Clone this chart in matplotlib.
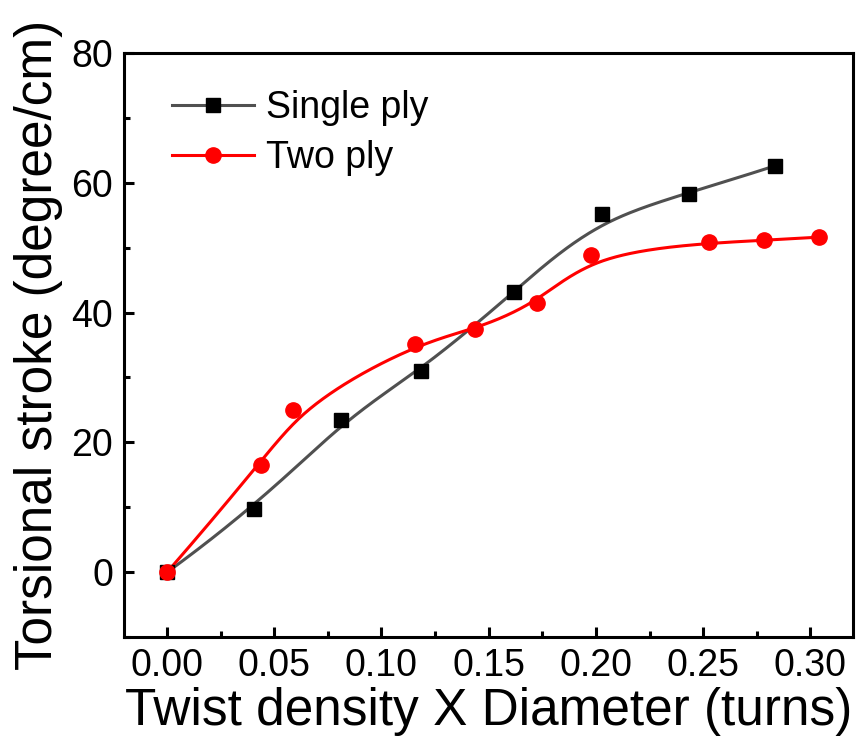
import numpy as np
from matplotlib import pyplot as plt
from matplotlib.ticker import MultipleLocator

# data
single_x = [0.0, 0.0404, 0.081, 0.1183, 0.162, 0.2027, 0.2433, 0.2837]
single_y = [0.0, 9.7, 23.4, 31.0, 43.2, 55.1, 58.3, 62.6]
two_x = [0.0, 0.0438, 0.0589, 0.1158, 0.1437, 0.1724, 0.1979, 0.2525, 0.2785, 0.3038]
two_y = [0.0, 16.6, 25.0, 35.2, 37.4, 41.4, 48.8, 50.8, 51.1, 51.6]


def bspline(xs, ys, n=400, k=3):
    # clamped cubic B-spline with the data points as control points
    P = np.column_stack([xs, ys])
    m = len(P)
    u = np.concatenate([np.zeros(k), np.linspace(0, 1, m - k + 1), np.ones(k)])
    t = np.linspace(0, 1, n)
    N = np.zeros((len(u) - 1, n))
    for i in range(len(u) - 1):
        N[i] = (u[i] <= t) & (t < u[i + 1])
    N[m - 1, -1] = 1.0
    for p in range(1, k + 1):
        Nn = np.zeros((len(u) - 1 - p, n))
        for i in range(len(u) - 1 - p):
            a = 0.0
            d1 = u[i + p] - u[i]
            if d1 > 0:
                a = (t - u[i]) / d1 * N[i]
            b = 0.0
            d2 = u[i + p + 1] - u[i + 1]
            if d2 > 0:
                b = (u[i + p + 1] - t) / d2 * N[i + 1]
            Nn[i] = a + b
        N = Nn
    C = N.T @ P
    return C[:, 0], C[:, 1]


plt.rcParams['font.family'] = ['Liberation Sans', 'DejaVu Sans']

fig = plt.figure(figsize=(8.59, 7.47), dpi=100)
ax = fig.add_axes([0.1444, 0.1468, 0.849, 0.7827])

gray = '#505050'
sx, sy = bspline(single_x, single_y)
tx, ty = bspline(two_x, two_y)
ax.plot(sx, sy, color=gray, lw=2.2, zorder=2)
ax.plot(tx, ty, color='red', lw=2.2, zorder=2)
ax.plot(single_x, single_y, ls='none', marker='s', ms=9.5, color='black', zorder=3)
ax.plot(two_x, two_y, ls='none', marker='o', ms=11, color='red', zorder=4)

# legend handles
h1, = ax.plot([], [], color=gray, lw=2.2, marker='s', ms=9.5, mfc='black', mec='black')
h2, = ax.plot([], [], color='red', lw=2.2, marker='o', ms=11)
ax.legend([h1, h2], ['Single ply', 'Two ply'], loc='upper left',
          bbox_to_anchor=(0.2, 0.88), bbox_transform=fig.transFigure,
          frameon=False, fontsize=27, handlelength=2.2, handletextpad=0.3,
          labelspacing=0.38, borderpad=0, borderaxespad=0)

ax.set_xlim(-0.02, 0.32)
ax.set_ylim(-10, 80)
ax.set_xticks([0.0, 0.05, 0.10, 0.15, 0.20, 0.25, 0.30])
ax.set_xticklabels(['0.00', '0.05', '0.10', '0.15', '0.20', '0.25', '0.30'])
ax.set_yticks([0, 20, 40, 60, 80])
ax.xaxis.set_minor_locator(MultipleLocator(0.025))
ax.yaxis.set_minor_locator(MultipleLocator(10))
ax.tick_params(which='both', direction='in', top=False, right=False, width=2.2,
               labelsize=27, pad=8)
ax.tick_params(which='major', length=7)
ax.tick_params(which='minor', length=4.5)
for s in ax.spines.values():
    s.set_linewidth(2.2)

ax.set_xlabel('Twist density X Diameter (turns)', fontsize=37, labelpad=2)
ax.set_ylabel('Torsional stroke (degree/cm)', fontsize=37, labelpad=6)

fig.savefig('out.png', dpi=100)
